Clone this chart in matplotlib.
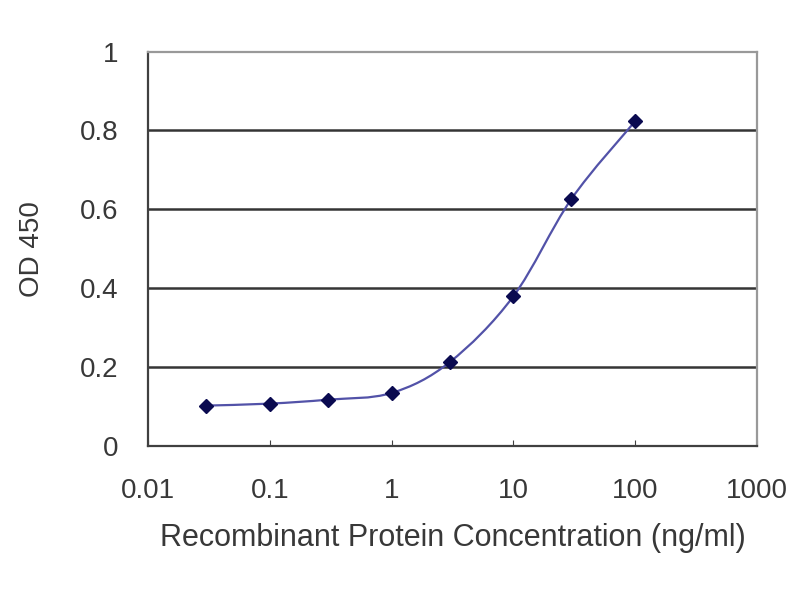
import numpy as np
import matplotlib
matplotlib.use("Agg")
import matplotlib.pyplot as plt
from matplotlib.path import Path
from matplotlib.patches import PathPatch

conc = [0.03, 0.1, 0.3, 1, 3, 10, 30, 100]
od450 = [0.102, 0.107, 0.117, 0.134, 0.212, 0.379, 0.626, 0.823]
xticks = [0.01, 0.1, 1, 10, 100, 1000]
xticklabels = ["0.01", "0.1", "1", "10", "100", "1000"]
yticks = [0, 0.2, 0.4, 0.6, 0.8, 1]
yticklabels = ["0", "0.2", "0.4", "0.6", "0.8", "1"]

plt.rcParams['font.family'] = ['Liberation Sans', 'DejaVu Sans']

fig = plt.figure(figsize=(8, 6), dpi=100)
ax = fig.add_axes([0.185, 0.257, 0.761, 0.657])
ax.set_xscale("log")
ax.set_xlim(0.01, 1000)
ax.set_ylim(0, 1)

# horizontal grid lines
for v in yticks[1:-1]:
    ax.axhline(v, color="#353535", lw=1.8, zorder=1)

# smoothed line (catmull-rom -> bezier, in log-x space)
lx = np.log10(conc)
ly = np.array(od450)
verts = [(conc[0], od450[0])]
codes = [Path.MOVETO]
n = len(lx)
for i in range(n - 1):
    p0 = (lx[max(i - 1, 0)], ly[max(i - 1, 0)])
    p1 = (lx[i], ly[i])
    p2 = (lx[i + 1], ly[i + 1])
    p3 = (lx[min(i + 2, n - 1)], ly[min(i + 2, n - 1)])
    c1 = (p1[0] + (p2[0] - p0[0]) / 6, p1[1] + (p2[1] - p0[1]) / 6)
    c2 = (p2[0] - (p3[0] - p1[0]) / 6, p2[1] - (p3[1] - p1[1]) / 6)
    for c in (c1, c2, p2):
        verts.append((10 ** c[0], c[1]))
        codes.append(Path.CURVE4)
ax.add_patch(PathPatch(Path(verts, codes), facecolor="none",
                       edgecolor="#5252a8", lw=1.6, zorder=2))

ax.plot(conc, od450, ls="none", marker="D", ms=7.5, color="#0a0a50", zorder=3)

ax.set_xticks(xticks)
ax.set_xticklabels(xticklabels)
ax.minorticks_off()
ax.set_yticks(yticks)
ax.set_yticklabels(yticklabels)
ax.tick_params(axis="x", direction="in", length=4, color="#404040",
               labelsize=20, pad=23)
ax.tick_params(axis="y", length=0, labelsize=20, pad=21)
for lab in ax.get_xticklabels() + ax.get_yticklabels():
    lab.set_color("#383838")

for s in ax.spines.values():
    s.set_color("#999999")
    s.set_linewidth(1.6)
ax.spines["bottom"].set_color("#404040")
ax.spines["left"].set_color("#404040")

ax.set_xlabel("Recombinant Protein Concentration (ng/ml)", fontsize=22,
              color="#383838", labelpad=14)
ax.set_ylabel("OD 450", fontsize=20, color="#383838", labelpad=25)

fig.savefig("out.png", dpi=100, facecolor="white")
